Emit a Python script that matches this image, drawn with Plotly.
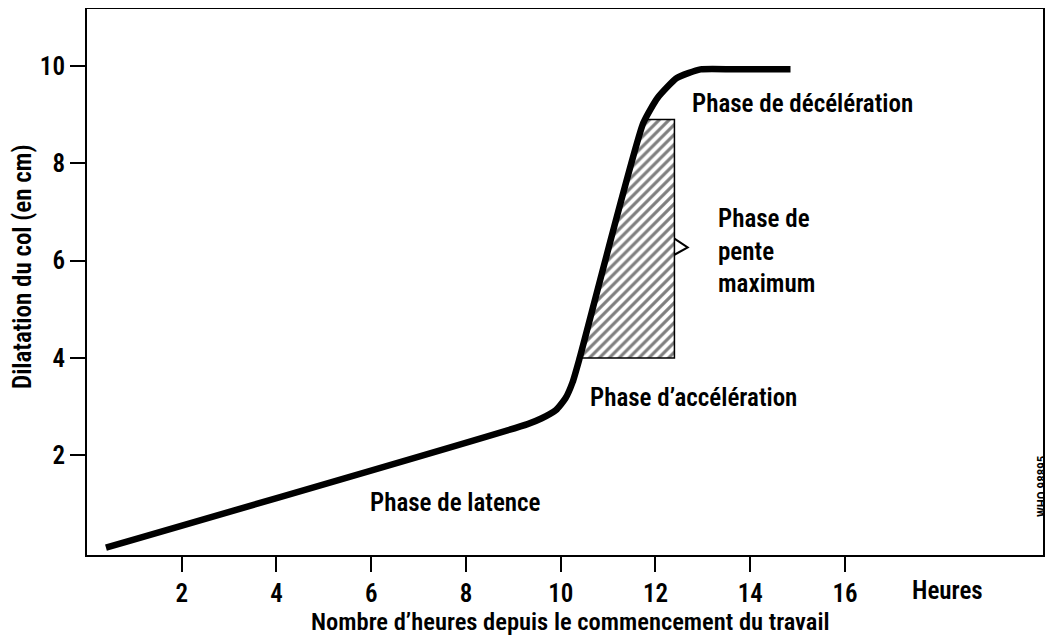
import plotly.graph_objects as go

# Curve of cervical dilation (hours, cm)
curve_hours = [0.4, 9.3, 9.6, 9.9, 10.1, 10.25, 10.4, 11.74, 12.05, 12.45, 12.95, 13.8, 14.85]
curve_dilation = [0.1, 2.64, 2.76, 2.93, 3.17, 3.5, 4.0, 8.82, 9.35, 9.75, 9.93, 9.93, 9.93]

# Hatched "maximum slope" zone
zone_hours = [10.42, 11.76, 12.4, 12.4, 10.42]
zone_dilation = [4.0, 8.9, 8.9, 4.0, 4.0]

# Pointer on the zone's right side
pointer_hours = [12.4, 12.68, 12.4]
pointer_dilation = [6.45, 6.27, 6.12]

x_ticks = [2, 4, 6, 8, 10, 12, 14, 16]
y_ticks = [2, 4, 6, 8, 10]

FONT = "Liberation Sans Narrow, Arial Narrow, Roboto Condensed, sans-serif"
FS = 25
FW = 600

# page body has an 8px margin: figure drawn at (8, 8)
W, H = 1045, 630
ML, MR, MT, MB = 79, 10, 1, 83
PW, PH = W - ML - MR, H - MT - MB


def px(sx, sy):
    """screen pixel -> paper coords"""
    fx, fy = sx - 8, sy - 8
    return (fx - ML) / PW, (H - MB - fy) / PH


def f(size=FS):
    return dict(family=FONT, size=size, color="black", weight=FW)


fig = go.Figure()

fig.add_trace(go.Scatter(
    x=zone_hours, y=zone_dilation, mode="lines", fill="toself",
    fillcolor="white",
    fillpattern=dict(shape="/", fgcolor="black", bgcolor="white", size=7, solidity=0.45),
    line=dict(color="black", width=1.5), hoverinfo="skip", showlegend=False))

fig.add_trace(go.Scatter(
    x=pointer_hours, y=pointer_dilation, mode="lines",
    line=dict(color="black", width=2), hoverinfo="skip", showlegend=False))

fig.add_trace(go.Scatter(
    x=curve_hours, y=curve_dilation, mode="lines",
    line=dict(color="black", width=6.5, shape="spline", smoothing=0.5),
    showlegend=False))

labels = [
    (12.73, 9.22, "Phase de décélération", "left"),
    (13.28, 6.2, "Phase de<br>pente<br>maximum", "left"),
    (10.57, 3.19, "Phase d’accélération", "left"),
    (7.77, 1.02, "Phase de latence", "center"),
]
for x, y, t, al in labels:
    fig.add_annotation(x=x, y=y, text=t, showarrow=False, xanchor=al, yanchor="middle",
                       align="left", font=f())

hx, hy = px(947, 590)
fig.add_annotation(xref="paper", yref="paper", x=hx, y=hy, text="Heures",
                   showarrow=False, xanchor="center", yanchor="middle", font=f())
tx, ty = px(570, 621)
fig.add_annotation(xref="paper", yref="paper", x=tx, y=ty,
                   text="Nombre d’heures depuis le commencement du travail",
                   showarrow=False, xanchor="center", yanchor="middle", font=f(24.5))
yx, yy = px(22, 267)
fig.add_annotation(xref="paper", yref="paper", x=yx, y=yy,
                   text="Dilatation du col (en cm)", textangle=-90,
                   showarrow=False, xanchor="center", yanchor="middle", font=f())
wx, wy = px(1041, 487)
fig.add_annotation(xref="paper", yref="paper", x=wx, y=wy,
                   text="WHO 98895", textangle=-90,
                   showarrow=False, xanchor="center", yanchor="middle", font=f(13))

axis_common = dict(showline=True, linecolor="black", linewidth=2, mirror=True,
                   showgrid=False, zeroline=False, ticks="outside", ticklen=15,
                   tickwidth=2, tickcolor="black", automargin=False,
                   tickfont=f())

fig.update_xaxes(range=[0, 20.18], tickvals=x_ticks, ticktext=[str(v) for v in x_ticks],
                 **axis_common)
fig.update_yaxes(range=[-0.05, 11.17], tickvals=y_ticks, ticktext=[str(v) for v in y_ticks],
                 **axis_common)

fig.update_layout(width=W, height=H, plot_bgcolor="white", paper_bgcolor="white",
                  margin=dict(l=ML, r=MR, t=MT, b=MB, pad=0), showlegend=False)

fig.write_html("out.html")
